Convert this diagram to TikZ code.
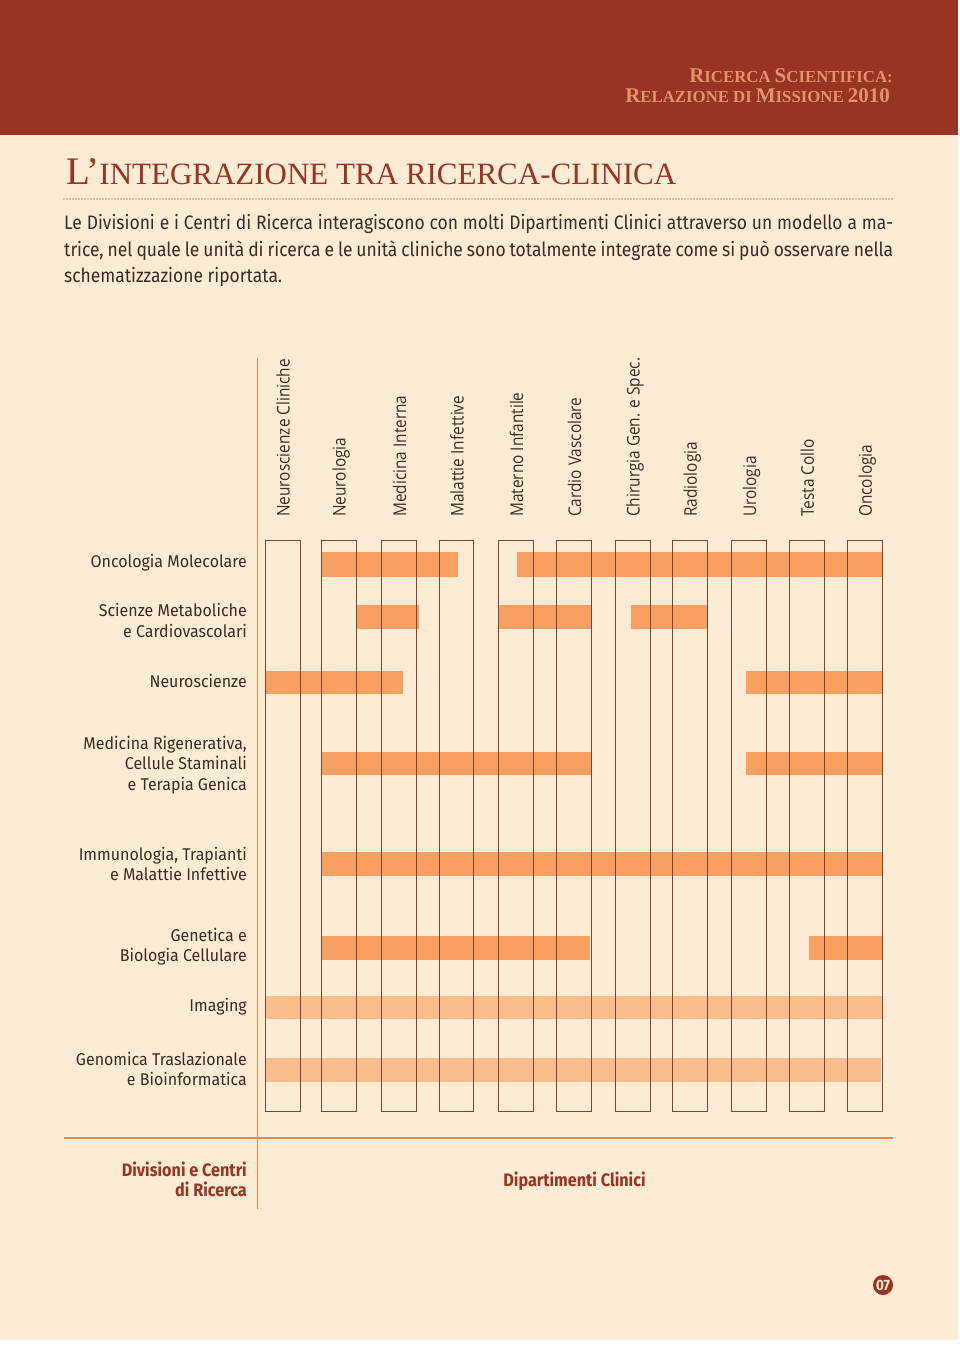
\documentclass[tikz,border=0pt]{standalone}
\usepackage{fontspec}
\setmainfont{Liberation Serif}
\newfontfamily\bodyf[FakeStretch=0.895]{Fira Sans}
\newfontfamily\rowf[FakeStretch=0.94]{Fira Sans}
\newfontfamily\colf[FakeStretch=0.88]{Open Sans}
\newfontfamily\boldf[FakeStretch=0.9]{Fira Sans}
\definecolor{cream}{RGB}{253,236,213}
\definecolor{hdr}{RGB}{153,51,34}
\definecolor{hdrtext}{RGB}{226,146,108}
\definecolor{bardark}{RGB}{247,160,98}
\definecolor{barlight}{RGB}{250,190,140}
\definecolor{colline}{RGB}{125,70,50}
\definecolor{axisc}{RGB}{232,135,78}
\definecolor{txt}{RGB}{58,43,35}
\newcommand{\BigS}[1]{{\fontsize{21}{21}\selectfont #1}}
\newcommand{\SmS}[1]{{\fontsize{16.8}{17}\selectfont #1}}
\newcommand{\TBig}[1]{{\fontsize{39}{39}\selectfont #1}}
\newcommand{\TSm}[1]{{\fontsize{31}{31}\selectfont #1}}
\tikzset{
  colbox/.style={draw=colline,line width=0.9pt},
  bardk/.style={fill=bardark},
  barlt/.style={fill=barlight},
  axisline/.style={draw=axisc,line width=1.3pt},
  rowlab/.style={anchor=base east,inner sep=0pt,text=txt,font=\rowf\fontsize{17}{20}\selectfont},
  collab/.style={anchor=base west,inner sep=0pt,rotate=90,text=txt,font=\colf\fontsize{17.5}{20}\selectfont},
  bodytxt/.style={anchor=base west,inner sep=0pt,text=txt,font=\bodyf\fontsize{19.5}{26}\selectfont},
  boldlab/.style={inner sep=0pt,text=hdr,font=\boldf\bfseries\fontsize{18}{20}\selectfont},
  hdrlab/.style={anchor=base east,inner sep=0pt,text=hdrtext,font=\bfseries},
}
\begin{document}
\begin{tikzpicture}[x=1pt,y=-1pt]
\useasboundingbox (0,0) rectangle (960,1348);
\fill[white] (0,0) rectangle (960,1348);
\fill[cream] (0,0) rectangle (958,1340);
\fill[hdr] (0,0) rectangle (958,135);
% header text
\node[hdrlab] (h1) at (893,83) {\BigS{R}\SmS{ICERCA}\hspace{4pt}\BigS{S}\SmS{CIENTIFICA:}};
\node[hdrlab] (h2) at (890,103) {\BigS{R}\SmS{ELAZIONE}\hspace{4pt}\SmS{DI}\hspace{4pt}\BigS{M}\SmS{ISSIONE}\hspace{4pt}\BigS{2010}};
% title
\node[anchor=base west,inner sep=0pt,text=hdr] (title) at (66,185) {\TBig{L'}\TSm{INTEGRAZIONE TRA RICERCA-CLINICA}};
\coordinate (d1) at (64,199);
\coordinate (d2) at (893,199);
\draw[axisc,line width=1.6pt,line cap=round,dash pattern=on 0pt off 3pt] (d1) -- (d2);
% body
\node[bodytxt] (b1) at (64,230) {\makebox[829pt][s]{Le Divisioni e i Centri di Ricerca interagiscono con molti Dipartimenti Clinici attraverso un modello a ma-}};
\node[bodytxt] (b2) at (64,256) {\makebox[829pt][s]{trice, nel quale le unità di ricerca e le unità cliniche sono totalmente integrate come si può osservare nella}};
\node[bodytxt] (b3) at (64,282) {schematizzazione riportata.};
% bars
\fill[bardk] (321,552) rectangle (458,577);
\fill[bardk] (517,552) rectangle (883,577);
\fill[bardk] (357,605) rectangle (419,629);
\fill[bardk] (499,605) rectangle (592,629);
\fill[bardk] (631,605) rectangle (707,629);
\fill[bardk] (265,671) rectangle (403,694);
\fill[bardk] (746,671) rectangle (883,694);
\fill[bardk] (322,752) rectangle (592,775);
\fill[bardk] (746,752) rectangle (883,775);
\fill[bardk] (321,852) rectangle (883,876);
\fill[bardk] (322,936) rectangle (590,960);
\fill[bardk] (809,936) rectangle (882,960);
\fill[barlt] (265,996) rectangle (882,1019);
\fill[barlt] (265,1058) rectangle (881,1082);
% columns and labels
\foreach \xl/\lab [count=\i] in {265.3/Neuroscienze Cliniche,321.3/Neurologia,381.8/Medicina Interna,439.1/Malattie Infettive,498.8/Materno Infantile,556.8/Cardio Vascolare,615.3/Chirurgia Gen. e Spec.,672.5/Radiologia,731.8/Urologia,789.4/Testa Collo,847.4/Oncologia}{
  \draw[colbox] (\xl,540) rectangle ++(34.8,571.5);
  \node[collab] (c\i) at (\xl+24.4,517) {\lab};
}
% axes
\coordinate (va) at (257.5,358);
\coordinate (vb) at (257.5,1209);
\coordinate (ha) at (64,1138);
\coordinate (hb) at (893,1138);
\draw[axisline] (va) -- (vb);
\draw[axisline] (ha) -- (hb);
% row labels
\node[rowlab] (r1) at (247,567) {Oncologia Molecolare};
\node[rowlab] (r2a) at (247,616) {Scienze Metaboliche};
\node[rowlab] (r2b) at (247,637) {e Cardiovascolari};
\node[rowlab] (r3) at (247,687) {Neuroscienze};
\node[rowlab] (r4a) at (247,749) {Medicina Rigenerativa,};
\node[rowlab] (r4b) at (247,769.5) {Cellule Staminali};
\node[rowlab] (r4c) at (247,790) {e Terapia Genica};
\node[rowlab] (r5a) at (247,860) {Immunologia, Trapianti};
\node[rowlab] (r5b) at (247,880.5) {e Malattie Infettive};
\node[rowlab] (r6a) at (247,941) {Genetica e};
\node[rowlab] (r6b) at (247,961.5) {Biologia Cellulare};
\node[rowlab] (r7) at (247,1011) {Imaging};
\node[rowlab] (r8a) at (247,1065) {Genomica Traslazionale};
\node[rowlab] (r8b) at (247,1085.5) {e Bioinformatica};
% bottom labels
\node[boldlab,anchor=base east] (l1) at (247,1176) {Divisioni e Centri};
\node[boldlab,anchor=base east] (l2) at (247,1196) {di Ricerca};
\node[boldlab,anchor=base] (l3) at (574.5,1186) {Dipartimenti Clinici};
% page number
\node[circle,fill=hdr,minimum size=20pt,inner sep=0pt,text=cream,font=\bodyf\bfseries\fontsize{15}{15}\selectfont] (pg) at (883,1285) {07};
\end{tikzpicture}
\end{document}
